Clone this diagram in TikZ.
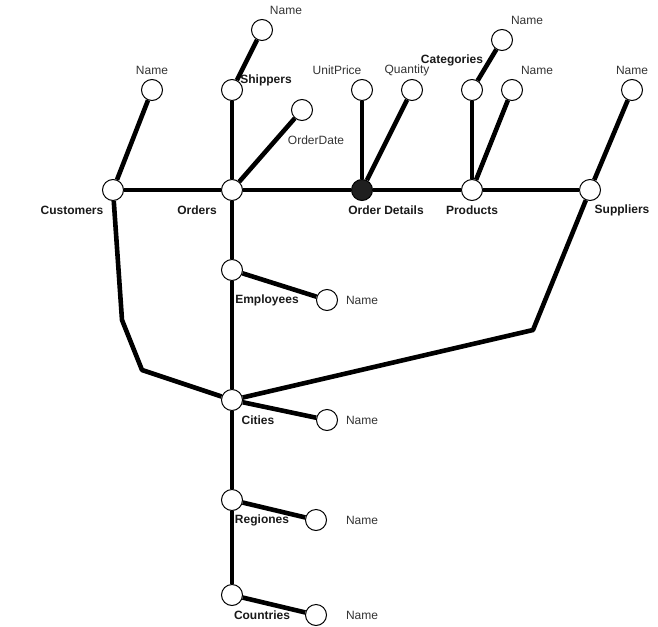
\documentclass[tikz,border=0pt]{standalone}
\usepackage{fontspec}
\setmainfont{Liberation Sans}
\usetikzlibrary{positioning}
\begin{document}
\begin{tikzpicture}[x=1pt,y=-1pt,
        entity/.style={
            circle, line width=1pt, draw = black, fill = white, minimum size = 21pt, inner sep = 0pt
        },
        bridge/.style={
            circle, line width=1pt, draw = black, fill = black!88, minimum size = 21pt, inner sep = 0pt
        },
        link/.style={
            line width = 4.6pt, draw = black
        },
        entlabel/.style={
            font = \fontsize{12}{14}\selectfont\bfseries, text = black!90, inner sep = 0pt
        },
        attlabel/.style={
            font = \fontsize{12}{14}\selectfont, text = black!80, inner sep = 0pt
        },
    ]
        \useasboundingbox (0,0) rectangle (658,626);

        % main row
        \node (customers) [entity] at (113,190) {};
        \node (orders) [entity] at (232,190) {};
        \node (orderDetails) [bridge] at (362,190) {};
        \node (products) [entity] at (472,190) {};
        \node (suppliers) [entity] at (590,190) {};
        \node (customersLbl) [entlabel] at (72,210) {Customers};
        \node (ordersLbl) [entlabel] at (197,210) {Orders};
        \node (orderDetailsLbl) [entlabel] at (386,210) {Order Details};
        \node (productsLbl) [entlabel] at (472,210) {Products};
        \node (suppliersLbl) [entlabel] at (622,210) {Suppliers};

        % attributes above
        \node (customersName) [entity] at (152,90) {};
        \node [attlabel] at (152,70) {Name};
        \node (shippers) [entity] at (232,90) {};
        \node [entlabel] at (266,80) {Shippers};
        \node (shippersName) [entity] at (262,30) {};
        \node [attlabel] at (286,10) {Name};
        \node (orderDate) [entity] at (302,110) {};
        \node [attlabel] at (316,140) {OrderDate};
        \node (unitPrice) [entity] at (362,90) {};
        \node [attlabel] at (337,70) {UnitPrice};
        \node (quantity) [entity] at (412,90) {};
        \node [attlabel] at (407,70) {Quantity};
        \node (categories) [entity] at (472,90) {};
        \node [entlabel] at (452,60) {Categories};
        \node (categoriesName) [entity] at (502,40) {};
        \node [attlabel] at (527,20) {Name};
        \node (productsName) [entity] at (512,90) {};
        \node [attlabel] at (537,70) {Name};
        \node (suppliersName) [entity] at (632,90) {};
        \node [attlabel] at (632,70) {Name};

        % column below orders
        \node (employees) [entity] at (232,270) {};
        \node [entlabel] at (267,300) {Employees};
        \node (employeesName) [entity] at (327,300) {};
        \node [attlabel] at (362,300) {Name};
        \node (cities) [entity] at (232,400) {};
        \node [entlabel] at (258,420) {Cities};
        \node (citiesName) [entity] at (327,420) {};
        \node [attlabel] at (362,420) {Name};
        \node (regiones) [entity] at (232,500) {};
        \node [entlabel] at (262,520) {Regiones};
        \node (regionesName) [entity] at (316,520) {};
        \node [attlabel] at (362,520) {Name};
        \node (countries) [entity] at (232,595) {};
        \node [entlabel] at (262,615) {Countries};
        \node (countriesName) [entity] at (316,615) {};
        \node [attlabel] at (362,615) {Name};

        \coordinate (custBend1) at (122,320);
        \coordinate (custBend2) at (142,370);
        \coordinate (suppBend) at (533,330);

        \path (customers) edge[link] (orders);
        \path (orders) edge[link] (orderDetails);
        \path (orderDetails) edge[link] (products);
        \path (products) edge[link] (suppliers);
        \path (customers) edge[link] (customersName);
        \path (orders) edge[link] (shippers);
        \path (shippers) edge[link] (shippersName);
        \path (orders) edge[link] (orderDate);
        \path (orderDetails) edge[link] (unitPrice);
        \path (orderDetails) edge[link] (quantity);
        \path (products) edge[link] (categories);
        \path (categories) edge[link] (categoriesName);
        \path (products) edge[link] (productsName);
        \path (suppliers) edge[link] (suppliersName);
        \path (orders) edge[link] (employees);
        \path (employees) edge[link] (employeesName);
        \path (employees) edge[link] (cities);
        \path (cities) edge[link] (citiesName);
        \path (cities) edge[link] (regiones);
        \path (regiones) edge[link] (regionesName);
        \path (regiones) edge[link] (countries);
        \path (countries) edge[link] (countriesName);
        \draw[link, line join=round] (customers) -- (custBend1) -- (custBend2) -- (cities);
        \draw[link, line join=round] (suppliers) -- (suppBend) -- (cities);

    \end{tikzpicture}
\end{document}
